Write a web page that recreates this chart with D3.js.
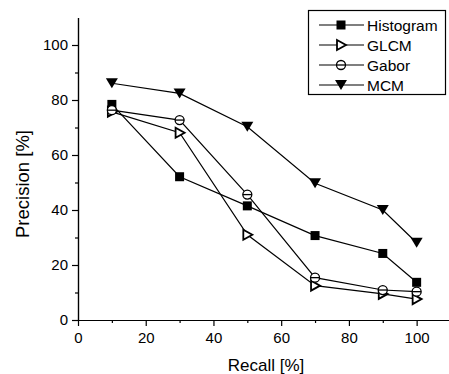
<!DOCTYPE html>
<meta charset="utf-8">
<script src="https://d3js.org/d3.v7.min.js"></script>
<style>
  body { margin: 0; background: #fff; }
  text { font-family: "Liberation Sans", Arial, sans-serif; fill: #000; }
</style>
<div id="chart"></div>
<script>

// data
var recall = [10, 30, 50, 70, 90, 100]
var histogram = [78.4, 52.1, 41.5, 30.7, 24.2, 13.7]
var glcm = [75.7, 68.1, 31.0, 12.5, 9.5, 7.6]
var gabor = [76.3, 72.7, 45.6, 15.4, 10.9, 10.3]
var mcm = [86.1, 82.4, 70.3, 49.7, 40.0, 28.1]
var seriesNames = ["Histogram", "GLCM", "Gabor", "MCM"]
var xTicks = [0, 20, 40, 60, 80, 100]
var yTicks = [0, 20, 40, 60, 80, 100]

var series = [
  { name: seriesNames[0], values: histogram, marker: "square" },
  { name: seriesNames[1], values: glcm, marker: "right" },
  { name: seriesNames[2], values: gabor, marker: "circle" },
  { name: seriesNames[3], values: mcm, marker: "down" }
]

var width = 449, height = 374
var svg = d3.select("#chart").append("svg")
  .attr("width", width)
  .attr("height", height)

var x = d3.scaleLinear().domain([0, 110]).range([78, 450.5])
var y = d3.scaleLinear().domain([0, 110]).range([320, 17.5])

// minor ticks first, then major ticks with labels
function styleAxis(g) {
  g.select(".domain").attr("stroke", "#000").attr("stroke-width", 1.2)
  g.selectAll(".tick line").attr("stroke", "#000").attr("stroke-width", 1.2)
}

svg.append("g")
  .attr("transform", "translate(0,320)")
  .call(d3.axisBottom(x).tickValues(d3.range(10, 110, 20)).tickSize(3).tickFormat("").tickSizeOuter(0))
  .call(styleAxis)
svg.append("g")
  .attr("transform", "translate(0,320)")
  .call(d3.axisBottom(x).tickValues(xTicks).tickSize(6).tickPadding(6).tickSizeOuter(0))
  .call(styleAxis)
  .selectAll("text").style("font-size", "15px")

svg.append("g")
  .attr("transform", "translate(78,0)")
  .call(d3.axisLeft(y).tickValues(d3.range(10, 110, 20)).tickSize(3).tickFormat("").tickSizeOuter(0))
  .call(styleAxis)
svg.append("g")
  .attr("transform", "translate(78,0)")
  .call(d3.axisLeft(y).tickValues(yTicks).tickSize(6).tickPadding(4).tickSizeOuter(0))
  .call(styleAxis)
  .selectAll("text").style("font-size", "15px")

// axis titles
svg.append("text")
  .attr("x", 266).attr("y", 371)
  .attr("text-anchor", "middle")
  .style("font-size", "17px")
  .text("Recall [%]")
svg.append("text")
  .attr("transform", "translate(29,184) rotate(-90)")
  .attr("text-anchor", "middle")
  .style("font-size", "18.5px")
  .text("Precision [%]")

// marker drawing
function drawMarker(g, type) {
  if (type == "square") {
    g.append("rect").attr("x", -4.5).attr("y", -4.5).attr("width", 9).attr("height", 9).attr("fill", "#000")
  } else if (type == "down") {
    g.append("path").attr("d", "M-6,-5L6,-5L0,5Z").attr("fill", "#000")
  } else if (type == "right") {
    g.append("path").attr("d", "M-4,-5L5,0L-4,5Z").attr("fill", "#fff")
      .attr("stroke", "#000").attr("stroke-width", 1.8)
  } else if (type == "circle") {
    g.append("circle").attr("r", 4.5).attr("fill", "#fff")
      .attr("stroke", "#000").attr("stroke-width", 1.3)
    g.append("line").attr("x1", -4.5).attr("x2", 4.5).attr("stroke", "#000").attr("stroke-width", 1.3)
  }
}

var line = d3.line()
  .x(function(d, i) { return x(recall[i]) })
  .y(function(d) { return y(d) })

series.forEach(function(s) {
  svg.append("path")
    .attr("d", line(s.values))
    .attr("fill", "none")
    .attr("stroke", "#000")
    .attr("stroke-width", 1.2)
})
series.forEach(function(s) {
  s.values.forEach(function(v, i) {
    var g = svg.append("g").attr("transform", "translate(" + x(recall[i]) + "," + y(v) + ")")
    drawMarker(g, s.marker)
  })
})

// legend
var legend = svg.append("g")
legend.append("rect")
  .attr("x", 308.5).attr("y", 10.5).attr("width", 137).attr("height", 84)
  .attr("fill", "#fff").attr("stroke", "#000").attr("stroke-width", 1.2)
series.forEach(function(s, i) {
  var ly = 25 + i * 20
  legend.append("line")
    .attr("x1", 319).attr("x2", 364).attr("y1", ly).attr("y2", ly)
    .attr("stroke", "#000").attr("stroke-width", 1.2)
  drawMarker(legend.append("g").attr("transform", "translate(341," + ly + ")"), s.marker)
  legend.append("text")
    .attr("x", 367).attr("y", ly + 5.5)
    .style("font-size", "15.5px")
    .text(s.name)
})

</script>
